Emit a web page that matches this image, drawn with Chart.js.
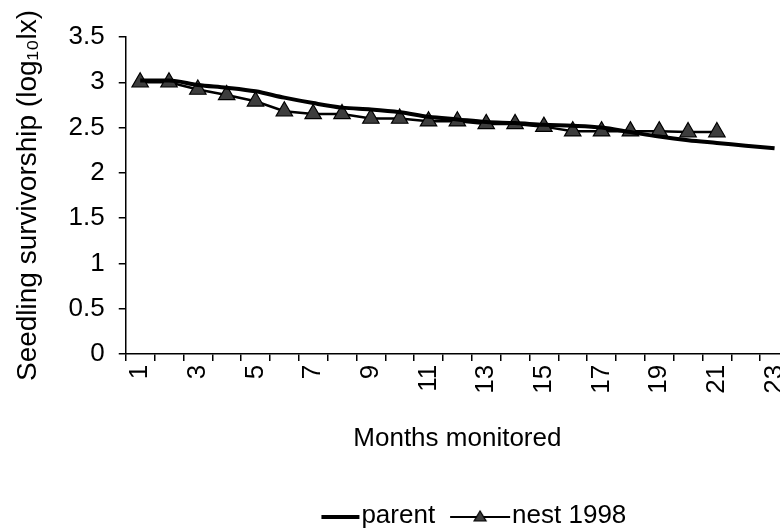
<!DOCTYPE html>
<html>
<head>
<meta charset="utf-8">
<script src="https://cdn.jsdelivr.net/npm/chart.js@4/dist/chart.umd.min.js"></script>
<style>
  html, body { margin:0; padding:0; background:#fff; overflow:hidden; }
  #wrap { width:810px; height:528px; }
</style>
</head>
<body>
<div id="wrap"><canvas id="chart" width="810" height="528"></canvas></div>
<script>
// ---- data ----
const months = ['1','2','3','4','5','6','7','8','9','10','11','12','13','14','15','16','17','18','19','20','21','22','23'];
const parentValues = [3.02, 3.02, 2.97, 2.94, 2.90, 2.83, 2.77, 2.72, 2.70, 2.67, 2.62, 2.59, 2.56, 2.55, 2.53, 2.52, 2.50, 2.45, 2.40, 2.36, 2.33, 2.30, 2.27];
const nestValues = [3.00, 3.00, 2.92, 2.86, 2.79, 2.68, 2.65, 2.65, 2.60, 2.60, 2.57, 2.57, 2.54, 2.54, 2.51, 2.46, 2.46, 2.46, 2.46, 2.45, 2.45];
const yMin = 0, yMax = 3.5, yStep = 0.5;

const FONT = "'Liberation Sans', Arial, Helvetica, sans-serif";
const FS = 26;
const BOX_W = 60;

// legend symbol: a line (and optional triangle) ending just before the label text
function legendIcon(lineLen, lineWidth, triangle) {
  const d = BOX_W / 2 + FS / 2 - 2;       // from icon centre to line end
  const cw = 2 * Math.max(d, lineLen - d) + 4;
  const c = document.createElement('canvas');
  c.width = cw; c.height = 20;
  const g = c.getContext('2d');
  const x1 = cw / 2 + d, x0 = x1 - lineLen;
  g.strokeStyle = '#000';
  g.lineWidth = lineWidth;
  g.beginPath(); g.moveTo(x0, 11); g.lineTo(x1, 11); g.stroke();
  if (triangle) {
    const cx = (x0 + x1) / 2;
    g.fillStyle = '#3d3d3d';
    g.lineWidth = 1.2;
    g.beginPath();
    g.moveTo(cx, 5); g.lineTo(cx + 6, 15); g.lineTo(cx - 6, 15); g.closePath();
    g.fill(); g.stroke();
  }
  return c;
}

const ctx = document.getElementById('chart');
new Chart(ctx, {
  type: 'line',
  data: {
    labels: months,
    datasets: [
      {
        label: 'parent',
        data: parentValues,
        borderColor: '#000',
        borderWidth: 4,
        pointRadius: 0,
        tension: 0.4,
        cubicInterpolationMode: 'monotone',
        fill: false
      },
      {
        label: 'nest 1998',
        data: nestValues,
        borderColor: '#000',
        borderWidth: 2.5,
        pointStyle: 'triangle',
        pointRadius: 9.5,
        pointBackgroundColor: '#3d3d3d',
        pointBorderColor: '#000',
        pointBorderWidth: 1.2,
        tension: 0,
        fill: false
      }
    ]
  },
  options: {
    responsive: false,
    animation: false,
    devicePixelRatio: 1,
    layout: { padding: { left: 0, right: 0, top: 37, bottom: -11 } },
    plugins: {
      tooltip: { enabled: false },
      legend: {
        position: 'bottom',
        fullSize: false,
        labels: {
          color: '#000',
          font: { family: FONT, size: FS },
          usePointStyle: true,
          pointStyleWidth: BOX_W,
          padding: 4,
          generateLabels: chart => chart.data.datasets.map((ds, i) => ({
            text: ds.label,
            datasetIndex: i,
            fontColor: '#000',
            lineWidth: 0,
            strokeStyle: 'rgba(0,0,0,0)',
            fillStyle: 'rgba(0,0,0,0)',
            pointStyle: i === 0 ? legendIcon(38, 4, false) : legendIcon(60, 2, true)
          }))
        }
      }
    },
    scales: {
      x: {
        offset: true,
        grid: { offset: true, drawOnChartArea: false, drawTicks: true, tickLength: 7, color: '#000', lineWidth: 1.5 },
        border: { color: '#000', width: 1.5 },
        ticks: {
          autoSkip: false,
          maxRotation: 90,
          minRotation: 90,
          padding: 4,
          color: '#000',
          font: { family: FONT, size: FS },
          callback: function (v, i) { return i % 2 === 0 ? months[i] : ''; }
        },
        title: {
          display: true,
          text: 'Months monitored',
          color: '#000',
          font: { family: FONT, size: FS },
          padding: { top: 25, bottom: 45 }
        }
      },
      y: {
        min: yMin,
        max: yMax,
        grid: { drawOnChartArea: false, drawTicks: true, tickLength: 7, color: '#000', lineWidth: 1.5 },
        border: { color: '#000', width: 1.5 },
        ticks: {
          stepSize: yStep,
          padding: 14,
          color: '#000',
          font: { family: FONT, size: FS },
          callback: v => String(v)
        },
        title: {
          display: true,
          text: 'Seedling survivorship (log\u2081\u2080lx)',
          color: '#000',
          font: { family: FONT, size: 28 },
          padding: { top: 11, bottom: 10 }
        }
      }
    }
  }
});
</script>
</body>
</html>
